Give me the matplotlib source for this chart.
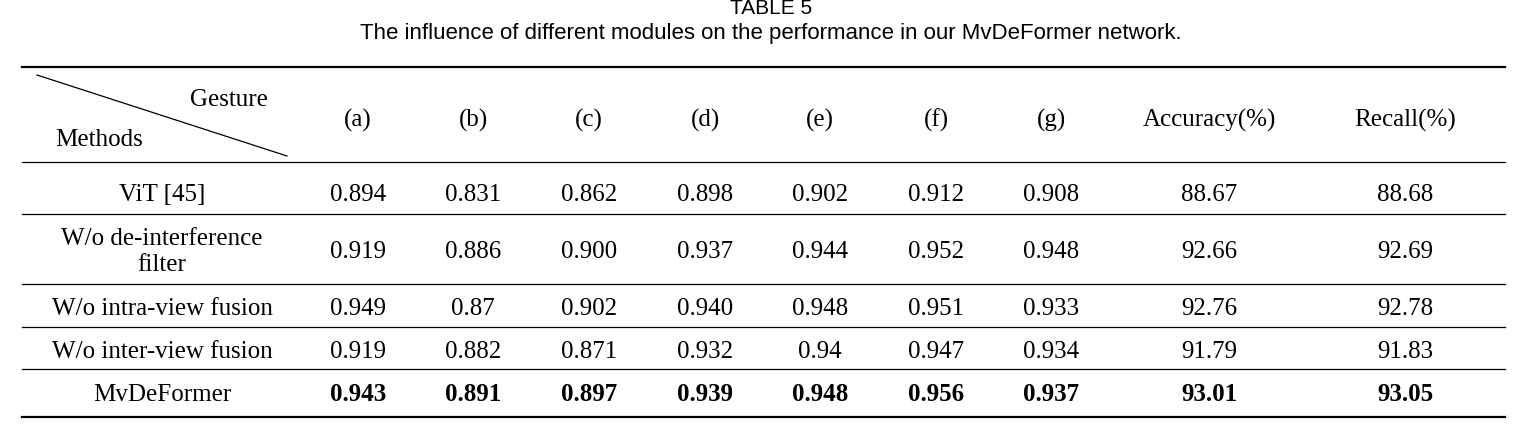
import matplotlib
matplotlib.use("Agg")
import matplotlib.pyplot as plt

methods = ["ViT [45]", "W/o de-interference\nfilter", "W/o intra-view fusion",
           "W/o inter-view fusion", "MvDeFormer"]
gestures = ["(a)", "(b)", "(c)", "(d)", "(e)", "(f)", "(g)", "Accuracy(%)", "Recall(%)"]
values = [
    ["0.894", "0.831", "0.862", "0.898", "0.902", "0.912", "0.908", "88.67", "88.68"],
    ["0.919", "0.886", "0.900", "0.937", "0.944", "0.952", "0.948", "92.66", "92.69"],
    ["0.949", "0.87", "0.902", "0.940", "0.948", "0.951", "0.933", "92.76", "92.78"],
    ["0.919", "0.882", "0.871", "0.932", "0.94", "0.947", "0.934", "91.79", "91.83"],
    ["0.943", "0.891", "0.897", "0.939", "0.948", "0.956", "0.937", "93.01", "93.05"],
]

W, H = 1538, 439
fig = plt.figure(figsize=(W / 100, H / 100), dpi=100)
ax = fig.add_axes([0, 0, 1, 1])
ax.set_xlim(0, W)
ax.set_ylim(H, 0)
ax.axis("off")

serif = "Liberation Serif"
sans = "Liberation Sans"
fs = 18
dy = 3  # va="center" sits a little high for this font

ax.text(W / 2 + 2, 8, "TABLE 5", ha="center", va="center", family=sans, fontsize=15)
ax.text(W / 2 + 2, 34, "The influence of different modules on the performance in our MvDeFormer network.",
        ha="center", va="center", family=sans, fontsize=16)

x0, x1 = 22, 1505
ax.plot([x0, x1], [68, 68], color="black", lw=1.6)
for y in [163, 215, 285, 328, 370]:
    ax.plot([x0, x1], [y, y], color="black", lw=0.9)
ax.plot([x0, x1], [418, 418], color="black", lw=1.6)

ax.plot([37, 287], [76, 157], color="black", lw=0.9)
ax.text(229, 97 + dy, "Gesture", ha="center", va="center", family=serif, fontsize=fs)
ax.text(99, 137 + dy, "Methods", ha="center", va="center", family=serif, fontsize=fs)

col_x = [358, 473, 589, 705, 820, 936, 1051, 1209, 1405]
for x, g in zip(col_x, gestures):
    ax.text(x, 117 + dy, g, ha="center", va="center", family=serif, fontsize=fs)

row_y = [192, 249, 306, 349, 392]
for i, (m, y) in enumerate(zip(methods, row_y)):
    bold = i == len(methods) - 1
    ax.text(162, y + dy, m, ha="center", va="center", family=serif, fontsize=fs,
            linespacing=1.2)
    for x, v in zip(col_x, values[i]):
        ax.text(x, y + dy, v, ha="center", va="center", family=serif, fontsize=fs,
                fontweight="bold" if bold else "normal")

fig.savefig("out.png", dpi=100, facecolor="white")
